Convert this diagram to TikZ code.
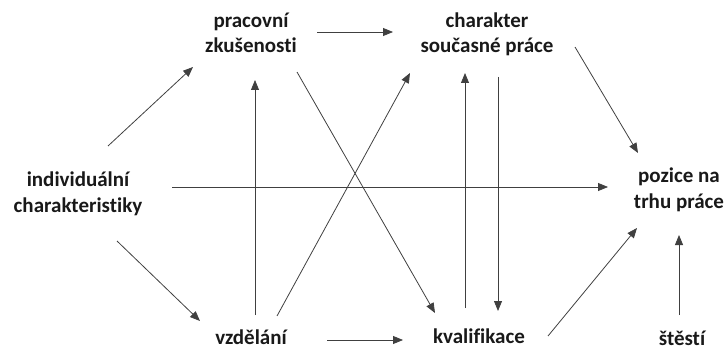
\documentclass[tikz,border=0pt]{standalone}
\usepackage{fontspec}
\setmainfont{Carlito}[Ligatures=NoCommon]
\usetikzlibrary{arrows.meta}
\begin{document}
\begin{tikzpicture}[x=1pt,y=-1pt,
  lbl/.style={font=\fontsize{21}{25}\selectfont\bfseries, align=center, inner sep=0pt, anchor=base, text=black!90},
  arr/.style={draw=black!75, line width=0.8pt, -{Triangle[length=10pt,width=8pt]}}]
\useasboundingbox (0,0) rectangle (727,347);
% nodes (anchor = baseline of last line)
\node[lbl] (prac) at (251,53) {pracovní\\zkušenosti};
\node[lbl] (char) at (487,53) {charakter\\současné práce};
\node[lbl] (ind)  at (78,212) {individuální\\charakteristiky};
\node[lbl] (poz)  at (679,208) {pozice na\\trhu práce};
\node[lbl] (vzd)  at (251,344) {vzdělání};
\node[lbl] (kval) at (479,343) {kvalifikace};
\node[lbl] (stes) at (682,345) {štěstí};
% connector end points
\coordinate (ind-prac-s) at (108,146);  \coordinate (ind-prac-e) at (193,67);
\coordinate (prac-char-s) at (317,32);  \coordinate (prac-char-e) at (393,32);
\coordinate (ind-vzd-s) at (117,241);   \coordinate (ind-vzd-e) at (200,321);
\coordinate (vzd-kval-s) at (327,340);  \coordinate (vzd-kval-e) at (403,340);
\coordinate (ind-poz-s) at (172,187);   \coordinate (ind-poz-e) at (608,187);
\coordinate (vzd-prac-s) at (255,315);  \coordinate (vzd-prac-e) at (255,80);
\coordinate (vzd-char-s) at (277,316);  \coordinate (vzd-char-e) at (410,73);
\coordinate (prac-kval-s) at (297,72);  \coordinate (prac-kval-e) at (435,313);
\coordinate (kval-char-s) at (465,308); \coordinate (kval-char-e) at (465,73);
\coordinate (char-kval-s) at (498,77);  \coordinate (char-kval-e) at (498,311);
\coordinate (char-poz-s) at (575,47);   \coordinate (char-poz-e) at (638,153);
\coordinate (kval-poz-s) at (548,336);  \coordinate (kval-poz-e) at (637,228);
\coordinate (stes-poz-s) at (679,315);  \coordinate (stes-poz-e) at (679,235);
% connectors
\draw[arr] (ind-prac-s) -- (ind-prac-e);
\draw[arr] (prac-char-s) -- (prac-char-e);
\draw[arr] (ind-vzd-s) -- (ind-vzd-e);
\draw[arr] (vzd-kval-s) -- (vzd-kval-e);
\draw[arr] (ind-poz-s) -- (ind-poz-e);
\draw[arr] (vzd-prac-s) -- (vzd-prac-e);
\draw[arr] (vzd-char-s) -- (vzd-char-e);
\draw[arr] (prac-kval-s) -- (prac-kval-e);
\draw[arr] (kval-char-s) -- (kval-char-e);
\draw[arr] (char-kval-s) -- (char-kval-e);
\draw[arr] (char-poz-s) -- (char-poz-e);
\draw[arr] (kval-poz-s) -- (kval-poz-e);
\draw[arr] (stes-poz-s) -- (stes-poz-e);
\end{tikzpicture}
\end{document}
